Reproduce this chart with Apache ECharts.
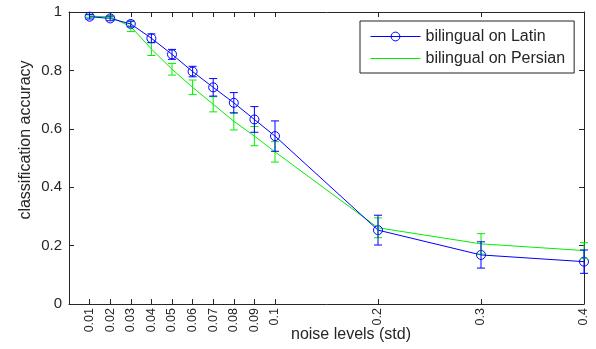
<!DOCTYPE html>
<html>
<head>
<meta charset="utf-8">
<script src="https://cdn.jsdelivr.net/npm/echarts@6/dist/echarts.min.js"></script>
<style>
html,body{margin:0;padding:0;background:#fff;}
#chart{width:596px;height:349px;}
</style>
</head>
<body>
<div id="chart"></div>
<script>
// noise levels (std) tick labels and their positions along the x axis
var xLabels = ['0.01','0.02','0.03','0.04','0.05','0.06','0.07','0.08','0.09','0.1','0.2','0.3','0.4'];
var xPos = [1,2,3,4,5,6,7,8,9,10,15,20,25];

// bilingual on Latin
var latinMean = [0.984, 0.978, 0.959, 0.910, 0.855, 0.796, 0.742, 0.689, 0.632, 0.575, 0.253, 0.168, 0.145];
var latinErr  = [0.008, 0.008, 0.010, 0.015, 0.017, 0.018, 0.030, 0.035, 0.044, 0.052, 0.051, 0.045, 0.040];

// bilingual on Persian
var persianMean = [0.986, 0.983, 0.950, 0.873, 0.804, 0.742, 0.684, 0.626, 0.575, 0.521, 0.261, 0.206, 0.183];
var persianErr  = [0.004, 0.004, 0.017, 0.022, 0.020, 0.025, 0.026, 0.030, 0.033, 0.035, 0.034, 0.035, 0.027];

var BLUE = '#0000ff', GREEN = '#00f000', INK = '#262626';
var FONT = '"Liberation Sans", Arial, sans-serif';

function pts(mean){ return xPos.map(function(x,i){ return [x, mean[i]]; }); }
function errData(mean, err){ return xPos.map(function(x,i){ return [x, mean[i]-err[i], mean[i]+err[i]]; }); }

function errSeries(name, mean, err, color){
  return {
    type: 'custom', name: name + ' err', z: 5,
    data: errData(mean, err),
    renderItem: function(params, api){
      var x = api.value(0);
      var lo = api.coord([x, api.value(1)]);
      var hi = api.coord([x, api.value(2)]);
      var w = 4;
      var st = {stroke: color, lineWidth: 1, fill: null};
      return {type: 'group', children: [
        {type:'line', shape:{x1:lo[0], y1:lo[1], x2:hi[0], y2:hi[1]}, style: st},
        {type:'line', shape:{x1:lo[0]-w, y1:lo[1], x2:lo[0]+w, y2:lo[1]}, style: st},
        {type:'line', shape:{x1:hi[0]-w, y1:hi[1], x2:hi[0]+w, y2:hi[1]}, style: st}
      ]};
    }
  };
}

var xLabelMap = {};
xPos.forEach(function(p,i){ xLabelMap[p] = xLabels[i]; });

var chart = echarts.init(document.getElementById('chart'), null, {renderer:'canvas'});
var baseX = {
  type: 'value', min: 0, max: 25,
  axisLine: {show: true, onZero: false, lineStyle: {color: INK, width: 1}},
  axisTick: {show: true, inside: true, length: 5, customValues: xPos, lineStyle: {color: INK}},
  splitLine: {show: false}
};
var baseY = {
  type: 'value', min: 0, max: 1, interval: 0.2,
  axisLine: {show: true, onZero: false, lineStyle: {color: INK, width: 1}},
  axisTick: {show: true, inside: true, length: 5, lineStyle: {color: INK}},
  splitLine: {show: false}
};

chart.setOption({
  animation: false,
  backgroundColor: '#fff',
  textStyle: {fontFamily: FONT},
  grid: {left: 69, right: 12, top: 12, bottom: 45},
  xAxis: [
    Object.assign({}, baseX, {
      position: 'bottom',
      axisLabel: {show: true, customValues: xPos, rotate: 90, margin: 4, fontSize: 12.5, color: INK,
        fontFamily: FONT,
        formatter: function(v){ return xLabelMap[v] || ''; }}
    }),
    Object.assign({}, baseX, {position: 'top', axisLabel: {show: false}})
  ],
  yAxis: [
    Object.assign({}, baseY, {
      position: 'left',
      axisLabel: {show: true, margin: 7, fontSize: 15, color: INK, fontFamily: FONT,
        formatter: function(v){ return String(Math.round(v*10)/10); }}
    }),
    Object.assign({}, baseY, {position: 'right', axisLabel: {show: false}})
  ],
  legend: {
    orient: 'vertical', left: 360, top: 21,
    padding: [7, 9, 6, 10],
    itemGap: 5, itemWidth: 50, itemHeight: 11,
    backgroundColor: '#fff', borderColor: '#222', borderWidth: 1,
    textStyle: {fontSize: 16, lineHeight: 17, color: INK, fontFamily: FONT},
    lineStyle: {width: 1},
    itemStyle: {borderWidth: 1},
    data: [
      {name: 'bilingual on Latin'},
      {name: 'bilingual on Persian', itemStyle: {color: 'rgba(0,0,0,0)', borderColor: 'rgba(0,0,0,0)', borderWidth: 0}}
    ]
  },
  graphic: [
    {type: 'text', x: 351, y: 335, style: {text: 'noise levels (std)', fill: INK,
      font: '16px ' + FONT, align: 'center', verticalAlign: 'middle'}},
    {type: 'text', x: 26, y: 140, rotation: Math.PI/2, style: {text: 'classification accuracy', fill: INK,
      font: '16px ' + FONT, align: 'center', verticalAlign: 'middle'}}
  ],
  series: [
    {
      name: 'bilingual on Latin', type: 'line', data: pts(latinMean), z: 4,
      symbol: 'circle', symbolSize: 9,
      lineStyle: {color: BLUE, width: 1},
      itemStyle: {color: 'rgba(0,0,0,0)', borderColor: BLUE, borderWidth: 1}
    },
    {
      name: 'bilingual on Persian', type: 'line', data: pts(persianMean), z: 3,
      symbol: 'none', showSymbol: false,
      lineStyle: {color: GREEN, width: 1},
      itemStyle: {color: GREEN}
    },
    errSeries('bilingual on Persian', persianMean, persianErr, GREEN),
    errSeries('bilingual on Latin', latinMean, latinErr, BLUE)
  ]
});
</script>
</body>
</html>
